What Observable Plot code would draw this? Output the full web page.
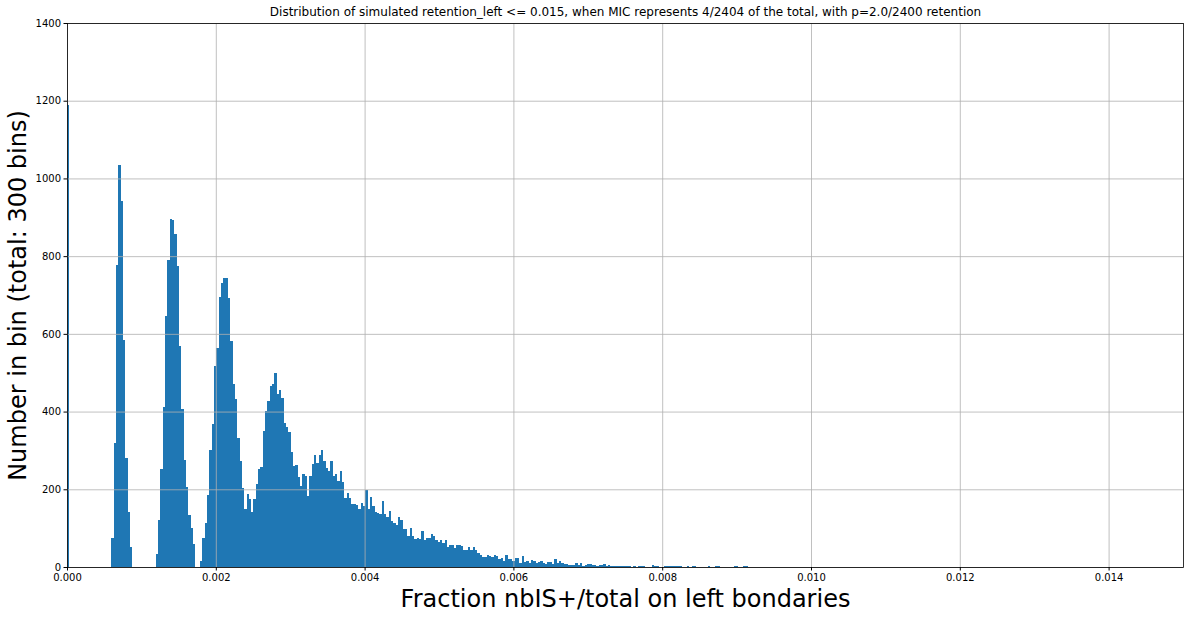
<!DOCTYPE html>
<html>
<head>
<meta charset="utf-8">
<script src="https://cdn.jsdelivr.net/npm/d3@7"></script>
<script src="https://cdn.jsdelivr.net/npm/@observablehq/plot@0.6"></script>
<style>
  body { margin: 0; background: #fff; }
  svg { font-family: "DejaVu Sans", sans-serif; }
</style>
</head>
<body>
<div id="chart"></div>
<script>
const title = "Distribution of simulated retention_left <= 0.015, when MIC represents 4/2404 of the total, with p=2.0/2400 retention";
const xLabel = "Fraction nbIS+/total on left bondaries";
const yLabel = "Number in bin (total: 300 bins)";

// histogram: 300 bins spanning [0, dataMax]
const dataMax = 0.0094;
const binCount = 300;
const counts = [
  1190,0,0,0,0,0,0,0,0,0,
  0,0,0,0,0,0,0,0,0,74,
  318,777,1035,942,584,281,142,51,0,0,
  0,0,0,0,0,0,0,0,34,121,
  252,412,646,790,896,893,857,775,569,407,
  275,206,134,100,59,0,0,15,75,113,
  185,301,368,517,564,695,731,744,744,692,
  582,471,432,332,273,203,149,188,175,142,
  175,214,252,257,350,402,427,466,471,499,
  445,456,435,371,360,347,296,260,263,232,
  208,239,234,183,234,265,288,267,288,301,
  273,255,247,273,234,240,221,247,219,178,
  190,178,162,162,160,149,165,157,198,150,
  180,158,142,140,136,170,136,129,144,118,
  113,108,129,121,98,98,80,100,80,72,
  75,72,93,70,75,75,85,80,70,64,
  69,63,69,51,57,57,49,57,57,54,
  44,44,51,44,51,44,36,31,26,26,
  31,28,26,31,28,21,23,15,31,21,
  21,15,23,23,10,28,13,15,10,18,
  15,10,13,15,10,8,13,13,8,21,
  10,15,10,8,8,5,6,6,10,5,
  10,3,5,8,8,5,5,3,5,5,
  8,3,5,3,3,3,3,3,3,3,
  3,3,0,3,0,3,3,3,0,0,
  0,5,3,3,0,0,3,2,2,2,
  2,2,2,2,0,0,2,0,2,2,
  0,0,0,0,0,2,0,0,2,2,
  0,0,0,0,0,0,2,2,0,0,
  2,2,0,0,0,0,0,0,0,1
];
const xTicks = [0, 0.002, 0.004, 0.006, 0.008, 0.010, 0.012, 0.014];
const yTicks = [0, 200, 400, 600, 800, 1000, 1200, 1400];

const binW = dataMax / binCount;
const bins = counts
  .map((n, i) => ({x1: i * binW, x2: (i + 1) * binW, n}))
  .filter(d => d.n > 0);

const chart = Plot.plot({
  width: 1190,
  height: 619,
  marginLeft: 67,
  marginRight: 7,
  marginTop: 23,
  marginBottom: 52,
  style: {fontFamily: "DejaVu Sans, sans-serif", fontSize: "10px", color: "#000", background: "#fff"},
  x: {domain: [0, 0.015]},
  y: {domain: [0, 1400]},
  marks: [
    Plot.rectY(bins, {x1: "x1", x2: "x2", y: "n", fill: "#1f77b4", shapeRendering: "crispEdges"}),
    Plot.gridX(xTicks, {stroke: "#b0b0b0", strokeOpacity: 1, strokeWidth: 0.8}),
    Plot.gridY(yTicks, {stroke: "#b0b0b0", strokeOpacity: 1, strokeWidth: 0.8}),
    Plot.frame({stroke: "#000", strokeWidth: 0.8}),
    Plot.axisX(xTicks, {tickFormat: d3.format(".3f"), tickSize: 3.5, tickPadding: 3, label: null, fontSize: 10}),
    Plot.axisY(yTicks, {tickFormat: d3.format("d"), tickSize: 3.5, tickPadding: 3, label: null, fontSize: 10}),
    Plot.text([title], {frameAnchor: "top", lineAnchor: "middle", dy: -11, fontSize: 12, fill: "#000"}),
    Plot.text([xLabel], {frameAnchor: "bottom", lineAnchor: "middle", dy: 32, fontSize: 24, fill: "#000"}),
    Plot.text([yLabel], {frameAnchor: "left", textAnchor: "middle", lineAnchor: "middle", rotate: -90, dx: -49, fontSize: 24, fill: "#000"})
  ]
});
document.getElementById("chart").appendChild(chart);
</script>
</body>
</html>
